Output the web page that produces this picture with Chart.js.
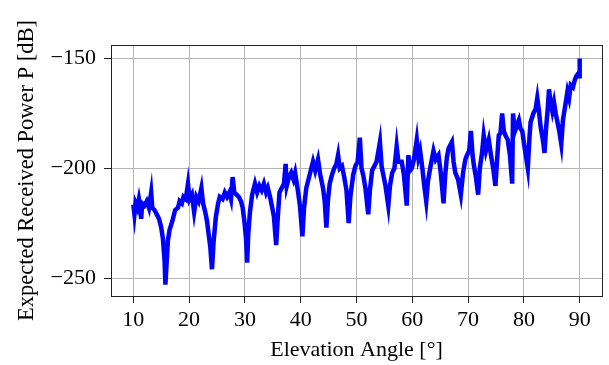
<!DOCTYPE html>
<html>
<head>
<meta charset="utf-8">
<script src="https://cdn.jsdelivr.net/npm/chart.js@4"></script>
<style>
  html, body { margin: 0; padding: 0; background: #fff; }
  #wrap { width: 609px; height: 365px; }
</style>
</head>
<body>
<div id="wrap"><canvas id="powerChart" width="609" height="365"></canvas></div>
<script>
// Elevation angle [deg] and expected received power [dB]
const angles = [
  10.0, 10.2, 10.4, 10.7, 11.0, 11.2, 11.4, 11.6, 12.0, 12.4, 12.8, 13.2, 13.4, 13.8, 14.2, 14.6,
  15.0, 15.3, 15.6, 15.75, 15.95, 16.2, 16.5, 17.0, 17.5, 18.0, 18.3, 18.7, 19.0, 19.4, 19.8,
  20.1, 20.5, 20.9, 21.3, 21.7, 22.2, 22.5, 22.9, 23.2, 23.5, 23.8, 24.1, 24.4, 24.8,
  25.2, 25.5, 26.0, 26.4, 26.8, 27.2, 27.5, 27.8, 28.1, 28.5, 28.9, 29.3, 29.6, 29.9,
  30.2, 30.4, 30.6, 30.9, 31.3, 31.8, 32.2, 32.6, 33.0, 33.4, 33.8, 34.1, 34.5, 34.9,
  35.2, 35.6, 35.9, 36.2, 36.6, 37.0, 37.3, 37.5, 37.9, 38.3, 38.7, 39.0, 39.3, 39.6, 39.9,
  40.3, 40.6, 41.0, 41.3, 41.8, 42.2, 42.6, 43.1, 43.5, 44.0, 44.3, 44.6, 44.9,
  45.2, 45.6, 46.0, 46.4, 46.7, 47.0, 47.4, 47.8, 48.2, 48.6, 48.9, 49.4, 49.8,
  50.2, 50.6, 50.9, 51.2, 51.6, 52.1, 52.4, 52.8, 53.2, 53.6, 54.2, 54.5, 54.8,
  55.2, 55.7, 56.0, 56.4, 56.8, 57.2, 57.5, 58.1, 58.5, 59.0, 59.3, 59.6, 59.9,
  60.3, 60.8, 61.1, 61.4, 61.8, 62.1, 62.5, 62.8, 63.2, 63.8, 64.2, 64.7,
  65.1, 65.6, 65.9, 66.2, 66.5, 67.1, 67.4, 67.7, 68.2, 68.7, 69.1, 69.5, 69.8,
  70.2, 70.5, 70.8, 71.0, 71.4, 71.8, 72.1, 72.5, 72.8, 73.2, 73.7, 74.1, 74.5, 74.9,
  75.2, 75.5, 75.8, 76.1, 76.4, 76.7, 77.1, 77.5, 77.9, 78.05, 78.4, 78.8, 79.1, 79.4, 79.7,
  80.1, 80.4, 80.7, 81.0, 81.2, 81.7, 82.1, 82.4, 82.7, 83.0, 83.4, 83.7, 84.0, 84.3, 84.5, 84.8,
  85.1, 85.4, 85.7, 86.1, 86.4, 86.7, 87.0, 87.5, 87.8, 88.1, 88.4, 88.8, 89.1, 89.4, 89.7, 89.9, 90.0
];
const power = [
  -216.5, -221, -216, -218, -214, -217, -223, -216, -217, -215, -218, -211, -218, -219, -221, -223,
  -227, -232, -242, -253, -244, -233, -228, -224, -219, -218, -215, -216, -213, -214, -207,
  -214, -212, -220, -213, -215, -209, -216, -220, -224, -230, -236, -246, -233, -222,
  -216, -213, -214, -211, -213, -211, -214, -204, -211, -212, -213, -215, -218, -224,
  -232, -243, -230, -220, -212, -207, -211, -208, -210, -207, -211, -209, -213, -218,
  -222, -235, -222, -211, -209, -207, -198, -208, -204, -202, -205, -202, -207, -212, -218,
  -231, -218, -209, -206, -201, -197, -201, -196, -203, -209, -215, -227, -214,
  -207, -203, -200, -198, -194, -200, -199, -204, -210, -225, -213, -203, -199,
  -197, -186, -200, -203, -209, -221, -210, -201, -199, -197, -188, -199, -203,
  -208, -217, -208, -202, -200, -190, -197, -197, -203, -217, -194, -201, -200,
  -196, -187, -195, -192, -200, -207, -215, -206, -200, -192, -196, -194,
  -202, -216, -203, -195, -191, -188, -197, -202, -205, -212, -202, -196, -194,
  -192, -183, -194, -198, -204, -212, -200, -193, -185, -192, -187, -194, -200, -208,
  -196, -185, -184, -175, -183, -185, -187, -194, -207, -175, -183, -180, -178, -182, -183,
  -190, -195, -200, -186, -179, -175, -173, -168, -174, -181, -187, -193, -181, -172, -164, -170,
  -174, -170, -175, -180, -184, -189, -178, -170, -165, -168, -162, -163, -160, -158, -157, -158, -150
];
const xTicks = [10, 20, 30, 40, 50, 60, 70, 80, 90];
const yTicks = [-250, -200, -150];

const serif = 'Liberation Serif, Times New Roman, serif';

// Box round the plot area (top and right edges too)
const frame = {
  id: 'frame',
  afterDraw(chart) {
    const { ctx, chartArea: a } = chart;
    ctx.save();
    ctx.strokeStyle = '#222';
    ctx.lineWidth = 1;
    ctx.strokeRect(Math.round(a.left) + 0.5, Math.round(a.top) + 0.5,
      Math.round(a.right - a.left), Math.round(a.bottom - a.top));
    ctx.restore();
  }
};

function renderChart() {
  const ctx = document.getElementById('powerChart').getContext('2d');
  const points = angles.map((a, i) => ({ x: a, y: power[i] }));

  new Chart(ctx, {
    type: 'line',
    data: {
      datasets: [{
        data: points,
        borderColor: '#0000ff',
        borderWidth: 4.5,
        borderJoinStyle: 'miter',
        pointRadius: 0,
        tension: 0,
        fill: false
      }]
    },
    options: {
      responsive: false,
      animation: false,
      layout: { padding: { top: 45, right: 7, left: 0, bottom: 0 } },
      plugins: { legend: { display: false }, tooltip: { enabled: false } },
      scales: {
        x: {
          type: 'linear',
          min: 6,
          max: 94,
          afterBuildTicks: (scale) => { scale.ticks = xTicks.map(v => ({ value: v })); },
          afterFit: (scale) => { scale.height = 69; },
          grid: { color: '#b5b5b5', tickColor: '#222', tickLength: 7 },
          border: { display: false },
          ticks: {
            color: '#000',
            font: { family: serif, size: 22 },
            padding: 4,
            maxRotation: 0
          },
          title: {
            display: true,
            text: 'Elevation Angle [°]',
            color: '#000',
            font: { family: serif, size: 22 },
            padding: { top: 0, bottom: 2 }
          }
        },
        y: {
          min: -258.2,
          max: -143.8,
          afterBuildTicks: (scale) => { scale.ticks = yTicks.map(v => ({ value: v })); },
          afterFit: (scale) => { scale.width = 111; },
          grid: { color: '#b5b5b5', tickColor: '#222', tickLength: 7 },
          border: { display: false },
          ticks: {
            color: '#000',
            font: { family: serif, size: 22 },
            padding: 8,
            callback: (v) => String(v).replace('-', '\u2212')
          },
          title: {
            display: true,
            text: 'Expected Received Power P [dB]',
            color: '#000',
            font: { family: serif, size: 22.5 },
            padding: { top: 14, bottom: 0 }
          }
        }
      }
    },
    plugins: [frame]
  });
}

document.addEventListener('DOMContentLoaded', renderChart);
</script>
</body>
</html>
